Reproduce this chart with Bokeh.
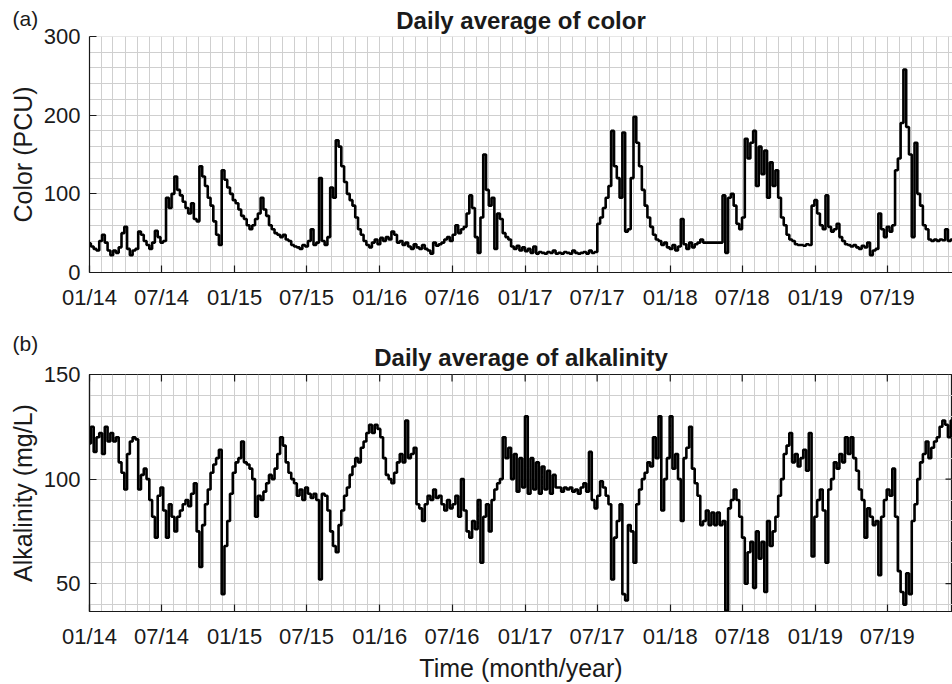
import numpy as np
import pandas as pd
from bokeh.plotting import figure
from bokeh.layouts import column, row
from bokeh.models import (DatetimeTickFormatter, MonthsTicker, FixedTicker,
                          SingleIntervalTicker, Label, Range1d, Title)
from bokeh.embed import file_html
from bokeh.resources import INLINE

# ---------------- data (weekly readings from the picture) ----------------
START = "2014-01-01"
END = "2019-12-12"

color_pcu = [
    37, 33, 30, 28, 40, 48, 38, 28, 22, 28, 25, 32, 50, 58, 30, 22, 28, 30, 52, 48, 40, 35, 30, 38, 53, 45,
    38, 40, 95, 82, 100, 122, 105, 98, 90, 82, 75, 88, 68, 65, 135, 122, 110, 95, 85, 65, 48, 35, 130, 118, 108, 100,
    92, 88, 80, 72, 68, 60, 55, 60, 68, 75, 95, 80, 72, 60, 55, 50, 48, 45, 48, 42, 40, 35, 33, 32, 30, 35,
    33, 40, 55, 35, 38, 120, 40, 35, 45, 108, 95, 168, 160, 135, 115, 100, 92, 85, 70, 55, 48, 40, 35, 32, 38, 42,
    36, 44, 40, 45, 42, 52, 48, 38, 40, 35, 38, 33, 30, 36, 32, 30, 35, 30, 28, 24, 38, 34, 36, 38, 42, 45,
    40, 48, 60, 50, 55, 58, 75, 98, 82, 45, 25, 70, 150, 105, 85, 95, 30, 75, 68, 50, 45, 42, 33, 30, 34, 28,
    32, 27, 30, 25, 33, 24, 26, 25, 24, 26, 25, 28, 24, 25, 24, 26, 25, 24, 28, 25, 24, 25, 26, 24, 28, 25,
    26, 62, 70, 82, 95, 110, 180, 135, 120, 95, 178, 52, 55, 120, 198, 165, 135, 105, 85, 70, 58, 48, 42, 40, 35, 38,
    32, 30, 35, 28, 33, 68, 36, 30, 38, 32, 36, 38, 42, 38, 38, 38, 38, 38, 38, 38, 98, 25, 95, 100, 85, 62,
    55, 70, 170, 145, 165, 180, 110, 160, 125, 155, 95, 140, 110, 130, 95, 70, 60, 48, 42, 40, 36, 35, 35, 34, 36, 35,
    85, 92, 75, 60, 55, 98, 58, 52, 55, 62, 45, 40, 36, 35, 33, 35, 32, 30, 34, 32, 38, 22, 28, 30, 75, 55,
    45, 58, 52, 60, 130, 145, 190, 258, 185, 150, 45, 165, 100, 85, 60, 55, 42, 40, 42, 40, 42, 41, 55, 40, 42,
]

alkalinity = [
    117, 125, 113, 120, 122, 112, 125, 118, 122, 118, 120, 108, 103, 95, 112, 118, 120, 119, 95, 102, 105, 100, 90, 82, 72, 92,
    96, 85, 72, 88, 82, 75, 82, 85, 88, 90, 87, 93, 98, 75, 58, 78, 88, 95, 103, 107, 110, 114, 45, 68, 80, 93,
    103, 108, 110, 118, 108, 107, 105, 100, 82, 92, 90, 94, 98, 102, 100, 105, 112, 120, 116, 108, 103, 100, 98, 92, 95, 90,
    96, 93, 91, 93, 90, 52, 93, 92, 85, 75, 68, 65, 78, 85, 92, 96, 102, 106, 110, 108, 115, 118, 122, 126, 122, 126,
    124, 120, 110, 102, 100, 98, 103, 108, 112, 108, 128, 110, 112, 115, 88, 86, 80, 88, 92, 90, 95, 91, 92, 88, 85, 90,
    86, 88, 92, 82, 100, 85, 75, 72, 80, 76, 90, 60, 82, 88, 75, 90, 95, 98, 100, 120, 110, 115, 100, 112, 94, 110,
    96, 130, 93, 110, 95, 108, 93, 106, 95, 104, 93, 102, 96, 96, 94, 96, 95, 96, 94, 95, 93, 96, 98, 94, 113, 90,
    86, 92, 99, 96, 92, 88, 52, 72, 80, 88, 45, 42, 78, 75, 60, 88, 95, 100, 103, 108, 106, 120, 110, 130, 85, 100,
    110, 130, 105, 112, 100, 80, 110, 115, 125, 105, 98, 92, 78, 80, 85, 78, 84, 78, 84, 78, 80, 37, 86, 90, 95, 90,
    82, 72, 50, 65, 70, 48, 75, 62, 70, 46, 80, 68, 75, 82, 92, 100, 112, 116, 122, 108, 112, 106, 110, 114, 104, 122,
    63, 82, 90, 95, 85, 60, 95, 100, 108, 105, 112, 108, 120, 112, 120, 110, 104, 95, 90, 72, 86, 82, 78, 80, 54, 82,
    90, 95, 92, 105, 82, 56, 46, 40, 55, 45, 80, 88, 100, 108, 112, 118, 110, 115, 118, 120, 125, 128, 126, 120, 128,
]

titles = ["Daily average of color", "Daily average of alkalinity"]
tags = ["(a)", "(b)"]
y_labels = ["Color (PCU)", "Alkalinity (mg/L)"]
x_label = "Time (month/year)"
color_ticks = [0, 100, 200, 300]
alk_ticks = [50, 100, 150]

# ---------------- styling / layout ----------------
FONT = "Liberation Sans"
INK = "#1a1a1a"
GRID = "#cfcfcf"
W = 952
LEFT = 89          # canvas x of the frame's left edge
SIDE = 40          # width of the narrow text column at the left
FRAME_H = 238
H1, H2 = 312, 372
TOP1, TOP2 = 36, 374 - H1

dates = pd.date_range(START, periods=len(color_pcu), freq="7D")
half_year_ticks = pd.date_range(START, END, freq="6MS")


def side_column(height, top, bottom, tag, tag_standoff, ylabel):
    s = figure(width=SIDE, height=height, output_backend="svg", toolbar_location=None,
               x_range=Range1d(0, SIDE), y_range=Range1d(0, 1),
               x_axis_location=None, y_axis_location=None,
               min_border_left=0, min_border_right=0,
               min_border_top=top, min_border_bottom=bottom)
    s.grid.visible = False
    s.outline_line_color = None
    s.background_fill_color = "white"
    s.border_fill_color = "white"
    s.add_layout(Title(text=tag, align="left", offset=12, vertical_align="top",
                       standoff=tag_standoff, text_font=FONT, text_font_size="21px",
                       text_font_style="normal", text_color=INK), "above")
    s.add_layout(Label(x=22.5, y=0.5, text=ylabel, text_font=FONT,
                       text_font_size="25px", text_align="center", text_baseline="middle",
                       angle=np.pi / 2, text_color=INK))
    return s


def make_panel(values, y_range, y_ticks, grid_step, title, height, top, bottom,
               boxed, title_standoff, xlabel=None):
    p = figure(width=W - SIDE, height=height, x_axis_type="datetime", output_backend="svg",
               toolbar_location=None,
               x_range=Range1d(pd.Timestamp(START), pd.Timestamp(END)),
               y_range=Range1d(*y_range),
               min_border_left=LEFT - SIDE, min_border_right=0,
               min_border_top=top, min_border_bottom=bottom)
    p.background_fill_color = "white"
    p.border_fill_color = "white"
    p.outline_line_color = INK if boxed else None
    p.outline_line_width = 1.2

    # grids: monthly vertical lines, fine horizontal lines
    p.xgrid.ticker = MonthsTicker(months=list(range(12)))
    p.ygrid.ticker = SingleIntervalTicker(interval=grid_step)
    for g in (p.xgrid[0], p.ygrid[0]):
        g.grid_line_color = GRID
        g.grid_line_width = 1

    p.step(dates, values, mode="center", line_color="black", line_width=2.6)

    fmt = DatetimeTickFormatter(days="%m/%y", months="%m/%y", years="%m/%y")
    xa = p.xaxis[0]
    xa.ticker = MonthsTicker(months=[0, 6])
    xa.formatter = fmt
    ya = p.yaxis[0]
    ya.ticker = FixedTicker(ticks=y_ticks)

    for ax in (xa, ya):
        ax.axis_line_color = INK
        ax.axis_line_width = 1.2
        ax.major_tick_line_color = INK
        ax.major_tick_line_width = 1.2
        ax.major_tick_in = 7
        ax.major_tick_out = 0
        ax.minor_tick_in = 0
        ax.minor_tick_out = 0
        ax.major_label_text_font = FONT
        ax.major_label_text_font_size = "22px"
        ax.major_label_text_color = INK
        ax.axis_label_text_font = FONT
        ax.axis_label_text_font_size = "25px"
        ax.axis_label_text_font_style = "normal"
        ax.axis_label_text_color = INK
    xa.major_label_standoff = 12
    ya.major_label_standoff = 9
    if xlabel:
        xa.axis_label = xlabel
        xa.axis_label_standoff = 2

    if boxed:
        # inward tick marks on the top and right edges of the box
        p.scatter(half_year_ticks, [y_range[1]] * len(half_year_ticks), marker="dash",
                  angle=np.pi / 2, size=14, line_color=INK, line_width=1.2)
        p.scatter([pd.Timestamp(END)] * len(y_ticks), y_ticks, marker="dash",
                  size=14, line_color=INK, line_width=1.2)

    p.add_layout(Title(text=title, align="center", text_font=FONT, text_font_style="bold",
                       text_font_size="24px", text_color=INK, standoff=title_standoff), "above")
    return p


B1 = H1 - TOP1 - FRAME_H
B2 = H2 - TOP2 - FRAME_H
p1 = make_panel(color_pcu, (0, 300.01), color_ticks, 20, titles[0],
                height=H1, top=TOP1, bottom=B1, boxed=False, title_standoff=6)
p2 = make_panel(alkalinity, (36.7, 150), alk_ticks, 10, titles[1],
                height=H2, top=TOP2, bottom=B2, boxed=True, title_standoff=8,
                xlabel=x_label)

s1 = side_column(H1, TOP1, B1, tags[0], 10, y_labels[0])
s2 = side_column(H2, TOP2, B2, tags[1], 36, y_labels[1])

layout = column(row(s1, p1, spacing=0), row(s2, p2, spacing=0), spacing=0)
open("out.html", "w").write(file_html(layout, INLINE))
